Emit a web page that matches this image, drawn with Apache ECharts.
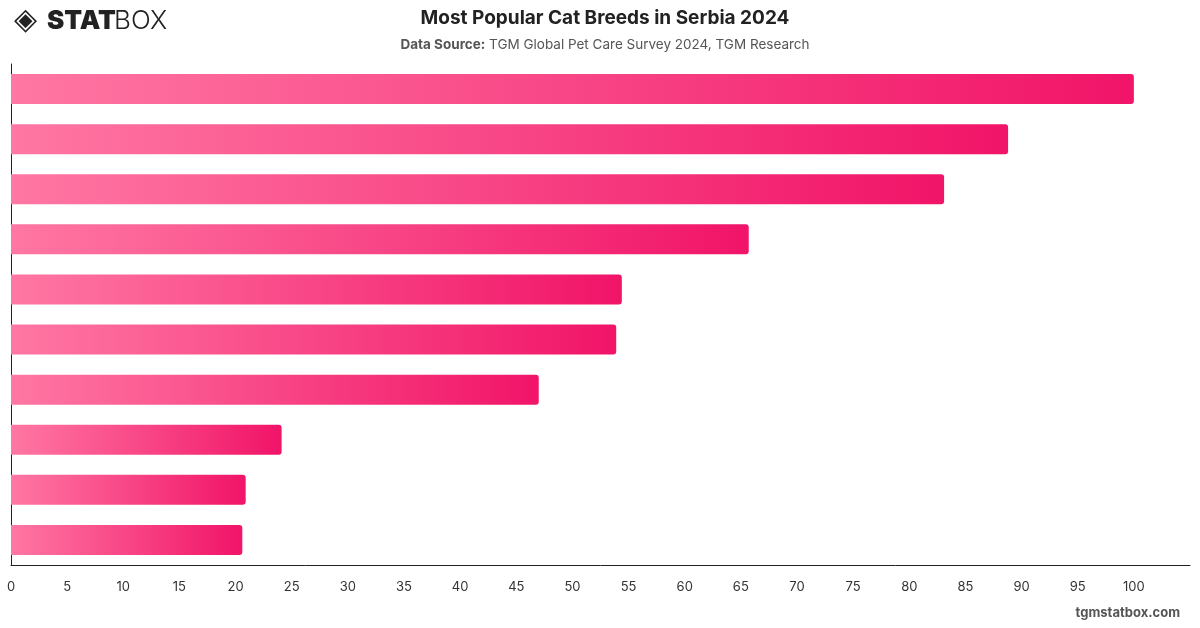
<!DOCTYPE html>
<html>
<head>
<meta charset="utf-8">
<script src="https://cdn.jsdelivr.net/npm/echarts@6/dist/echarts.min.js"></script>
<style>
html,body{margin:0;padding:0;background:#fff;}
#chart{width:1200px;height:628px;}
</style>
</head>
<body>
<div id="chart"></div>
<script>
const categories = ["Domestic Shorthair","Persian","Siamese","British Shorthair","Maine Coon","Ragdoll","Sphynx","Bengal","Scottish Fold","Russian Blue"];
const values = [100, 88.8, 83.1, 65.7, 54.4, 53.9, 47.0, 24.1, 20.9, 20.6];
const xTicks = {min: 0, max: 105, interval: 5};

const chart = echarts.init(document.getElementById('chart'));
const font = "Inter, 'Noto Sans', sans-serif";
chart.setOption({
  animation: false,
  title: [{
    text: 'Most Popular Cat Breeds in Serbia 2024',
    left: 600, top: 4, textAlign: 'center',
    textStyle: {fontFamily: font, fontSize: 19, fontWeight: 'bold', color: '#222'}
  }, {
    text: '{b|Data Source:} {n|TGM Global Pet Care Survey 2024, TGM Research}',
    left: 600, top: 33, textAlign: 'center',
    textStyle: {fontFamily: font, fontSize: 13.5, fontWeight: 'normal', color: '#555',
      rich: {
        b: {fontFamily: font, fontSize: 13.5, fontWeight: 'bold', color: '#555'},
        n: {fontFamily: font, fontSize: 13.5, fontWeight: 'normal', color: '#555'}
      }}
  }],
  graphic: [{
    type: 'text', left: 14, top: 6,
    style: {text: '◈', font: 'bold 30px "DejaVu Sans", sans-serif', fill: '#222'}
  }, {
    type: 'text', left: 47, top: 8,
    style: {text: 'STAT', font: '900 26px Inter, "Noto Sans", sans-serif', fill: '#222'}
  }, {
    type: 'text', left: 114, top: 8,
    style: {text: 'BOX', font: '300 26px Inter, "Noto Sans", sans-serif', fill: '#222'}
  }, {
    type: 'text', right: 20, top: 607,
    style: {text: 'tgmstatbox.com', font: 'bold 13px Inter, "Noto Sans", sans-serif', fill: '#555'}
  }],
  grid: {left: 11, right: 10, top: 64, bottom: 63},
  xAxis: {
    type: 'value', min: xTicks.min, max: xTicks.max, interval: xTicks.interval,
    axisLine: {show: true, lineStyle: {color: '#222', width: 1}},
    axisTick: {show: false},
    splitLine: {show: false},
    axisLabel: {color: '#333', fontFamily: font, fontSize: 13, margin: 16, showMaxLabel: false}
  },
  yAxis: {
    type: 'category', data: categories, inverse: true,
    axisLine: {show: true, lineStyle: {color: '#222', width: 1}},
    axisTick: {show: false},
    axisLabel: {show: false}
  },
  series: [{
    type: 'bar', data: values, barWidth: 30,
    itemStyle: {
      borderRadius: [0, 3, 3, 0],
      color: new echarts.graphic.LinearGradient(0, 0, 1, 0, [
        {offset: 0, color: '#ff77a3'},
        {offset: 1, color: '#f11468'}
      ])
    }
  }]
});
</script>
</body>
</html>
